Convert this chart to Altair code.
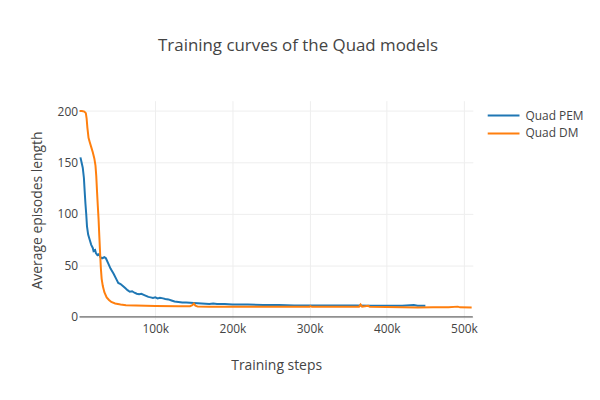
import altair as alt
import pandas as pd

# Quad PEM (blue)
pem_steps = [3000, 4500, 6000, 7500, 8500, 9500, 10500, 11500, 13000, 15000, 17000, 19000, 20000, 22000, 23000,
             25000, 27000, 29000, 31000, 34000, 36000, 39000, 42000, 46000, 50000, 52000, 55000, 58000, 61000,
             64000, 67000, 70000, 73000, 76000, 79000, 82000, 85000, 88000, 91000, 94000, 97000, 100000, 103000,
             106000, 110000, 113000, 117000, 121000, 125000, 130000, 135000, 140000, 150000, 160000, 170000,
             175000, 180000, 190000, 200000, 220000, 240000, 260000, 280000, 300000, 320000, 340000, 360000,
             380000, 400000, 420000, 435000, 440000, 450000]
pem_vals = [155, 150, 145, 135, 122, 110, 100, 88, 80, 75, 70, 67, 64, 65, 62,
            60, 61, 58, 57, 58, 57, 52, 47, 42, 36, 33, 32, 30, 28,
            26, 24.5, 25, 23.5, 22.5, 22, 22.5, 21.5, 20.5, 19.5, 19, 18.5, 19, 18,
            18.5, 18, 17.5, 17, 16, 15, 14.5, 14, 14, 13.5, 13, 12.5,
            13, 12.5, 12.5, 12, 12, 11.6, 11.5, 11.2, 11.2, 11, 11, 11,
            10.8, 10.8, 10.8, 11.5, 10.8, 10.8]

# Quad DM (orange)
dm_steps = [1800, 5000, 8000, 10000, 11000, 12000, 13500, 15000, 17000, 19000, 21000, 22500, 23500, 24500,
            25500, 26500, 27500, 28500, 29500, 30500, 32000, 34000, 37000, 40000, 43000, 48000, 55000, 62000,
            75000, 100000, 130000, 145000, 148000, 150000, 152000, 155000, 170000, 200000, 250000, 300000,
            301000, 303000, 340000, 364000, 366000, 368000, 376000, 378000, 400000, 420000, 440000, 460000,
            480000, 492000, 495000, 510000]
dm_vals = [200, 200, 199.5, 198, 193, 184, 174, 170, 165, 160, 154, 147, 137, 122,
           108, 95, 78, 62, 47, 37, 30, 24, 19, 16.5, 14.5, 13, 12, 11.4,
           11, 10.6, 10.4, 10.4, 11.5, 13, 11, 10, 9.8, 9.8, 9.8, 9.8,
           10.5, 9.8, 9.8, 9.8, 12, 10, 10.8, 9.8, 9.7, 9.5, 9.2, 9.5,
           9.5, 10, 9.3, 9.2]

series_names = ["Quad PEM", "Quad DM"]
series_colors = ["#1f77b4", "#ff7f0e"]
x_ticks = [100000, 200000, 300000, 400000, 500000]
y_ticks = [0, 50, 100, 150, 200]

df = pd.concat([
    pd.DataFrame({"step": pem_steps, "value": pem_vals, "series": series_names[0]}),
    pd.DataFrame({"step": dm_steps, "value": dm_vals, "series": series_names[1]}),
])

FONT = "Open Sans"
GRAY = "#444"

x_scale = alt.Scale(domain=[1800, 511500], nice=False, zero=False)
y_scale = alt.Scale(domain=[-2.2, 210.1], nice=False, zero=False)

lines = alt.Chart(df).mark_line(strokeWidth=2).encode(
    x=alt.X("step:Q", scale=x_scale, axis=alt.Axis(
        values=x_ticks, labelExpr="datum.value / 1000 + 'k'", title="Training steps",
        grid=True, gridColor="#eee", domain=False, ticks=False, labelPadding=4,
        titleX=198, titleY=47, titleBaseline="middle", titleAlign="center")),
    y=alt.Y("value:Q", scale=y_scale, axis=alt.Axis(
        values=y_ticks, title="Average episodes length",
        grid=True, gridColor="#eee", domain=False, ticks=False, labelPadding=2,
        titleX=-42, titleY=110, titleAngle=-90, titleBaseline="middle", titleAlign="center")),
    color=alt.Color("series:N", scale=alt.Scale(domain=series_names, range=series_colors),
                    legend=alt.Legend(title=None, orient="none", legendX=421, legendY=9,
                                      symbolType="M-4,0H4", symbolSize=64, symbolStrokeWidth=2,
                                      symbolFillColor="transparent",
                                      labelOffset=16, padding=0, rowPadding=6)),
)

zero = alt.Chart(pd.DataFrame({"y": [0]})).mark_rule(color=GRAY, strokeWidth=1).encode(
    y=alt.Y("y:Q", scale=y_scale))

chart = alt.layer(zero, lines).properties(
    width=396, height=220,
    title=alt.TitleParams("Training curves of the Quad models", fontSize=17, font=FONT, color=GRAY,
                          fontWeight="normal", anchor="middle", dx=22, offset=38, baseline="middle"),
    autosize=alt.AutoSizeParams(type="none"),
    padding={"left": 72, "top": 92, "right": 120, "bottom": 72},
).configure_view(stroke=None).configure_axis(
    labelFont=FONT, labelFontSize=12, labelColor=GRAY,
    titleFont=FONT, titleFontSize=14, titleColor=GRAY, titleFontWeight="normal",
).configure_legend(labelFont=FONT, labelFontSize=12, labelColor=GRAY)

chart.save("out.html", embed_options={"renderer": "svg", "actions": False})
